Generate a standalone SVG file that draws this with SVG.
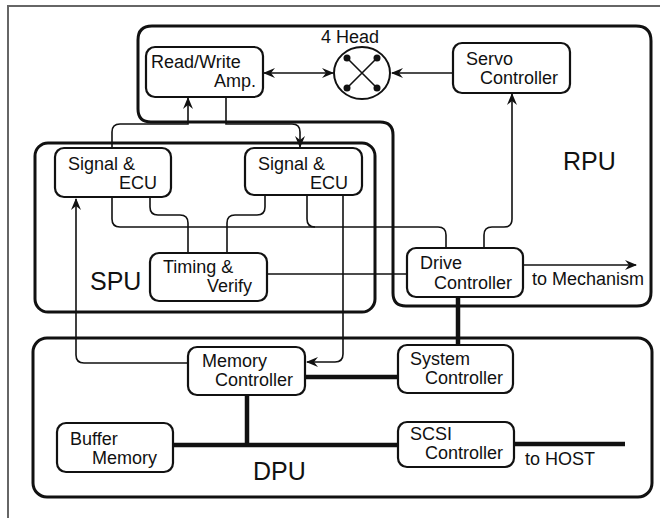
<svg xmlns="http://www.w3.org/2000/svg" width="661" height="518" viewBox="0 0 661 518">
  <style>
    .frame { fill: none; stroke: #666; stroke-width: 2; }
    .region { fill: none; stroke: #111; stroke-width: 3; }
    .box { fill: #fff; stroke: #111; stroke-width: 2.2; }
    .wire { fill: none; stroke: #111; stroke-width: 1.6; }
    .bus { fill: none; stroke: #111; stroke-width: 4.5; }
    text { font-family: "Liberation Sans", Arial, sans-serif; fill: #111; }
    .lbl { font-size: 18px; }
    .big { font-size: 25px; }
  </style>
  <defs>
    <marker id="arr" viewBox="0 0 12 10" refX="11" refY="5" markerWidth="12" markerHeight="10" markerUnits="userSpaceOnUse" orient="auto-start-reverse">
      <path d="M0,0 L12,5 L0,10 L4,5 Z" fill="#111"/>
    </marker>
  </defs>

  <rect width="661" height="518" fill="#fff"/>
  <path class="frame" d="M8,518 L8,6 L660,6"/>

  <!-- unit outlines -->
  <g id="rpu">
    <path class="region" d="M138,40 Q138,26 152,26 L636,26 Q651,26 651,41 L651,292 Q651,306 637,306 L406,306 Q393,306 393,293 L393,135 Q393,122 380,122 L151,122 Q138,122 138,109 Z"/>
    <text class="big" x="563" y="170">RPU</text>
  </g>
  <g id="spu">
    <rect class="region" x="35" y="143" width="340" height="169" rx="13"/>
    <text class="big" x="90" y="290">SPU</text>
  </g>
  <g id="dpu">
    <rect class="region" x="33" y="338" width="619" height="159" rx="14"/>
    <text class="big" x="253" y="480">DPU</text>
  </g>

  <!-- connectors -->
  <g id="connectors">
    <path class="wire" d="M264,73 L333,73" marker-start="url(#arr)" marker-end="url(#arr)"/>
    <path class="wire" d="M453,73 L392,73" marker-end="url(#arr)"/>
    <path class="wire" d="M112,148 L112,132 Q112,124 120,124 L188,124 L188,98" marker-end="url(#arr)"/>
    <path class="wire" d="M226,97 L226,124 L292,124 Q300,124 300,132 L300,147" marker-end="url(#arr)"/>
    <path class="wire" d="M112,197 L112,219 Q112,227 120,227 L438,227 Q446,227 446,235 L446,248"/>
    <path class="wire" d="M307,195 L307,219 Q307,227 315,227"/>
    <path class="wire" d="M150,197 L150,207 Q150,215 158,215 L180,215 Q188,215 188,223 L188,253"/>
    <path class="wire" d="M265,195 L265,207 Q265,215 257,215 L235,215 Q227,215 227,223 L227,253"/>
    <path class="wire" d="M267,274 L407,274"/>
    <path class="wire" d="M484,248 L484,235 Q484,227 492,227 L504,227 Q512,227 512,219 L512,94" marker-end="url(#arr)"/>
    <path class="wire" d="M523,265 L636,265" marker-end="url(#arr)"/>
    <path class="wire" d="M188,363 L84,363 Q76,363 76,355 L76,199" marker-end="url(#arr)"/>
    <path class="wire" d="M343,195 L343,354 Q343,362 335,362 L307,362" marker-end="url(#arr)"/>
    <path class="bus" d="M458,297 L458,345"/>
    <path class="bus" d="M305,377 L398,377"/>
    <path class="bus" d="M247,395 L247,445"/>
    <path class="bus" d="M173,445 L398,445"/>
    <path class="bus" d="M514,444 L625,444"/>
    <text class="lbl" x="532" y="285">to Mechanism</text>
    <text class="lbl" x="525" y="465">to HOST</text>
  </g>

  <!-- nodes -->
  <g id="head">
    <ellipse cx="362" cy="73" rx="28" ry="26" fill="none" stroke="#111" stroke-width="2"/>
    <path d="M347,58 L377,88 M377,58 L347,88" stroke="#111" stroke-width="1.6"/>
    <circle cx="347" cy="58" r="3.5" fill="#111"/>
    <circle cx="377" cy="58" r="3.5" fill="#111"/>
    <circle cx="347" cy="88" r="3.5" fill="#111"/>
    <circle cx="377" cy="88" r="3.5" fill="#111"/>
    <text class="lbl" x="321" y="43">4 Head</text>
  </g>
  <g id="rw-amp">
    <rect class="box" x="146" y="47" width="117" height="50" rx="9"/>
    <text class="lbl" x="151" y="68">Read/Write</text>
    <text class="lbl" x="256" y="87" text-anchor="end">Amp.</text>
  </g>
  <g id="servo">
    <rect class="box" x="453" y="43" width="117" height="50" rx="9"/>
    <text class="lbl" x="466" y="65">Servo</text>
    <text class="lbl" x="558" y="84" text-anchor="end">Controller</text>
  </g>
  <g id="ecu1">
    <rect class="box" x="55" y="148" width="116" height="49" rx="9"/>
    <text class="lbl" x="68" y="170">Signal &amp;</text>
    <text class="lbl" x="157" y="189" text-anchor="end">ECU</text>
  </g>
  <g id="ecu2">
    <rect class="box" x="245" y="148" width="117" height="47" rx="9"/>
    <text class="lbl" x="258" y="170">Signal &amp;</text>
    <text class="lbl" x="348" y="189" text-anchor="end">ECU</text>
  </g>
  <g id="timing">
    <rect class="box" x="150" y="253" width="117" height="48" rx="9"/>
    <text class="lbl" x="163" y="273">Timing &amp;</text>
    <text class="lbl" x="252" y="292" text-anchor="end">Verify</text>
  </g>
  <g id="drive">
    <rect class="box" x="407" y="248" width="116" height="49" rx="9"/>
    <text class="lbl" x="420" y="269">Drive</text>
    <text class="lbl" x="512" y="289" text-anchor="end">Controller</text>
  </g>
  <g id="memory">
    <rect class="box" x="188" y="347" width="117" height="48" rx="9"/>
    <text class="lbl" x="202" y="367">Memory</text>
    <text class="lbl" x="293" y="386" text-anchor="end">Controller</text>
  </g>
  <g id="system">
    <rect class="box" x="398" y="345" width="115" height="48" rx="9"/>
    <text class="lbl" x="410" y="365">System</text>
    <text class="lbl" x="503" y="384" text-anchor="end">Controller</text>
  </g>
  <g id="buffer">
    <rect class="box" x="57" y="423" width="116" height="49" rx="9"/>
    <text class="lbl" x="70" y="445">Buffer</text>
    <text class="lbl" x="157" y="464" text-anchor="end">Memory</text>
  </g>
  <g id="scsi">
    <rect class="box" x="398" y="422" width="116" height="45" rx="9"/>
    <text class="lbl" x="410" y="440">SCSI</text>
    <text class="lbl" x="503" y="459" text-anchor="end">Controller</text>
  </g>
</svg>
